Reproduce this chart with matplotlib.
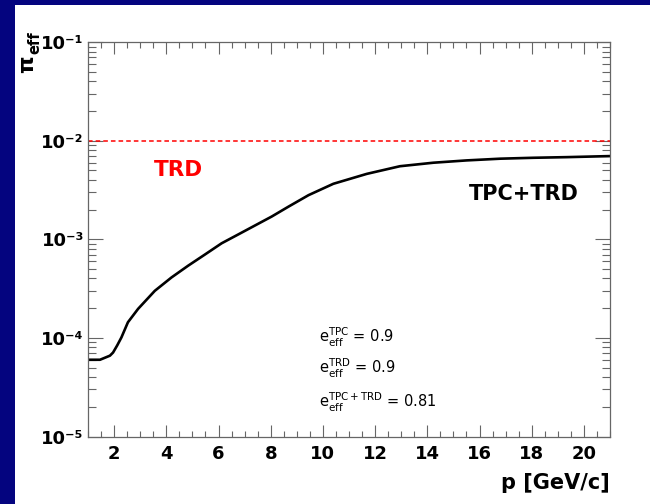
import numpy as np
import matplotlib
matplotlib.use("Agg")
import matplotlib.pyplot as plt
from matplotlib.patches import Rectangle
from matplotlib.ticker import MultipleLocator, LogLocator, FixedLocator, NullFormatter

plt.rcParams['font.family'] = ['DejaVu Sans']
plt.rcParams['mathtext.fontset'] = 'dejavusans'

# momentum (GeV/c) and pion efficiency for TPC+TRD
p = [1.0, 1.46, 1.84, 1.96, 2.12, 2.28, 2.53, 2.92, 3.56, 4.2, 4.84, 5.48, 6.12,
     6.76, 7.4, 8.04, 8.68, 9.45, 10.4, 11.68, 12.95, 14.23, 15.5, 16.8,
     18.06, 19.34, 21.0]
pi_eff = [6.0e-5, 6.0e-5, 6.6e-5, 7.1e-5, 8.4e-5, 1.01e-4, 1.44e-4, 1.97e-4,
          3.0e-4, 4.1e-4, 5.4e-4, 7.0e-4, 9.1e-4, 1.12e-3, 1.38e-3, 1.70e-3,
          2.14e-3, 2.8e-3, 3.65e-3, 4.6e-3, 5.5e-3, 5.97e-3, 6.3e-3, 6.56e-3,
          6.7e-3, 6.8e-3, 6.97e-3]
trd_level = 1e-2

x_ticks = [2, 4, 6, 8, 10, 12, 14, 16, 18, 20]
y_ticks = [1e-5, 1e-4, 1e-3, 1e-2, 1e-1]
y_labels = ['10\u207b\u2075', '10\u207b\u2074', '10\u207b\u00b3', '10\u207b\u00b2', '10\u207b\u00b9']
eff_lines = [r'$\mathregular{e^{TPC}_{eff}}$ = 0.9',
             r'$\mathregular{e^{TRD}_{eff}}$ = 0.9',
             r'$\mathregular{e^{TPC+TRD}_{eff}}$ = 0.81']
eff_y = [1.0e-4, 4.9e-5, 2.2e-5]

fig = plt.figure(figsize=(6.5, 5.04), dpi=100, facecolor='#04047f')
fig.patches.append(Rectangle((15 / 650, 0), 1, 1 - 5 / 504, transform=fig.transFigure,
                             facecolor='white', edgecolor='none', zorder=-1))

ax = fig.add_axes([88 / 650, 1 - 436.5 / 504, 522 / 650, 394.5 / 504])
ax.set_yscale('log')
ax.set_xlim(1, 21)
ax.set_ylim(1e-5, 1e-1)

ax.axhline(trd_level, color='red', lw=1.1, dashes=(3, 2))
ax.plot(p, pi_eff, color='black', lw=1.9, solid_capstyle='butt', solid_joinstyle='round')

ax.text(4.45, 5.0e-3, 'TRD', color='red', fontsize=15.5, fontweight='bold',
        ha='center', va='center')
ax.text(17.7, 2.9e-3, 'TPC+TRD', color='black', fontsize=15, fontweight='bold',
        ha='center', va='center')
for s, yy in zip(eff_lines, eff_y):
    ax.text(9.85, yy, s, fontsize=10.5, ha='left', va='center')

# ROOT-like axes: ticks inside on all sides
ax.xaxis.set_major_locator(FixedLocator(x_ticks))
ax.xaxis.set_minor_locator(MultipleLocator(0.5))
ax.set_xticklabels([str(v) for v in x_ticks])
ax.yaxis.set_major_locator(FixedLocator(y_ticks))
ax.yaxis.set_minor_locator(LogLocator(base=10, subs=np.arange(2, 10)))
ax.yaxis.set_minor_formatter(NullFormatter())
ax.set_yticklabels(y_labels)

ax.tick_params(axis='both', which='both', direction='in', top=True, right=True,
               color='#666666', width=0.8)
ax.tick_params(axis='x', which='major', length=8.5, pad=6, labelsize=13)
ax.tick_params(axis='x', which='minor', length=4.5)
ax.tick_params(axis='y', which='major', length=11, pad=3, labelsize=13)
ax.tick_params(axis='y', which='minor', length=6)
for lab in ax.get_xticklabels() + ax.get_yticklabels():
    lab.set_fontweight('bold')
for sp in ax.spines.values():
    sp.set_color('#666666')
    sp.set_linewidth(0.9)

ax.text(1.0, -0.118, 'p [GeV/c]', transform=ax.transAxes, ha='right', va='center',
        fontsize=15, fontweight='bold')

fig.text(27 / 650, 1 - 64 / 504, 'π', rotation=90, fontsize=16, fontweight='bold',
         ha='center', va='center')
fig.text(35 / 650, 1 - 43 / 504, 'eff', rotation=90, fontsize=10.5, fontweight='bold',
         ha='center', va='center')

fig.savefig('out.png', dpi=100, facecolor=fig.get_facecolor())
